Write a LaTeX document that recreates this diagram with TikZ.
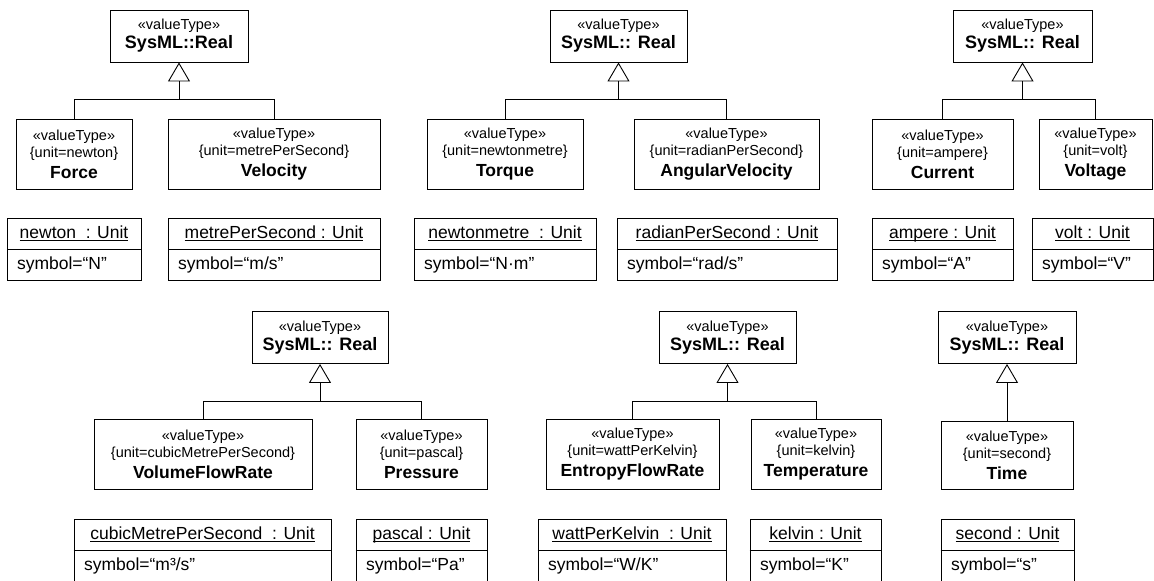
\documentclass[tikz,border=0pt]{standalone}
\usepackage{fontspec}
\setmainfont{Liberation Sans}
\usetikzlibrary{positioning}
\usetikzlibrary{arrows.meta}

% underlined instance name, rule at a fixed depth
\newsavebox{\unamebox}
\newcommand{\uname}[1]{\sbox{\unamebox}{#1}\rlap{\rule[-2.5pt]{\wd\unamebox}{0.8pt}}\usebox{\unamebox}}

\begin{document}
\begin{tikzpicture}[
    x=1pt, y=-1pt,
    line width=0.9pt,
    gen/.style={-{Triangle[open,length=19pt,width=22pt,line width=0.9pt]}},
    realbox/.style={draw, align=center, minimum height=52pt, inner sep=0pt,
      font=\fontsize{14.5}{19}\selectfont},
    typebox/.style={draw, align=center, minimum height=70pt, inner sep=0pt,
      font=\fontsize{14.5}{17}\selectfont},
    unithead/.style={draw, minimum height=31pt, inner sep=0pt,
      font=\fontsize{17.5}{20}\selectfont},
    unitbody/.style={draw, minimum height=31pt, inner xsep=10pt, inner ysep=0pt,
      align=left, font=\fontsize{17.5}{20}\selectfont},
  ]

  \useasboundingbox (0,0) rectangle (1154,581);

  % Mechanics: force and velocity
  \node[realbox, minimum width=138pt] (real1) at (179,36)
    {«valueType»\\{\fontsize{18}{19}\selectfont\bfseries SysML::Real}};
  \node[typebox, minimum width=116pt] (force) at (74,154)
    {«valueType»\\\{unit=newton\}\\[4pt]{\fontsize{17.5}{17}\selectfont\bfseries Force}};
  \node[typebox, minimum width=212pt] (velocity) at (274,154)
    {«valueType»\\\{unit=metrePerSecond\}\\[4pt]{\fontsize{17.5}{17}\selectfont\bfseries Velocity}};
  \node[unithead, minimum width=134pt] (newtonU) at (74,233.5) {\uname{newton\ \ : Unit}};
  \node[unitbody, text width=114pt, below=0pt of newtonU] (newtonS) {symbol=“N”};
  \node[unithead, minimum width=212pt] (metreU) at (274,233.5) {\uname{metrePerSecond\ : Unit}};
  \node[unitbody, text width=192pt, below=0pt of metreU] (metreS) {symbol=“m/s”};

  % Rotation: torque and angular velocity
  \node[realbox, minimum width=137pt] (real2) at (618.5,36)
    {«valueType»\\{\fontsize{18}{19}\selectfont\bfseries SysML:: Real}};
  \node[typebox, minimum width=156pt] (torque) at (505,154)
    {«valueType»\\\{unit=newtonmetre\}\\[4pt]{\fontsize{17.5}{17}\selectfont\bfseries Torque}};
  \node[typebox, minimum width=185pt] (angvel) at (726.5,154)
    {«valueType»\\\{unit=radianPerSecond\}\\[4pt]{\fontsize{17.5}{17}\selectfont\bfseries AngularVelocity}};
  \node[unithead, minimum width=182pt] (nmU) at (505,233.5) {\uname{newtonmetre\ \ : Unit}};
  \node[unitbody, text width=162pt, below=0pt of nmU] (nmS) {symbol=“N·m”};
  \node[unithead, minimum width=220pt] (radU) at (727,233.5) {\uname{radianPerSecond : Unit}};
  \node[unitbody, text width=200pt, below=0pt of radU] (radS) {symbol=“rad/s”};

  % Electrics: current and voltage
  \node[realbox, minimum width=139pt] (real3) at (1022.5,36)
    {«valueType»\\{\fontsize{18}{19}\selectfont\bfseries SysML:: Real}};
  \node[typebox, minimum width=141pt] (current) at (942.5,154)
    {«valueType»\\\{unit=ampere\}\\[4pt]{\fontsize{17.5}{17}\selectfont\bfseries Current}};
  \node[typebox, minimum width=113pt] (voltage) at (1095.5,154)
    {«valueType»\\\{unit=volt\}\\[4pt]{\fontsize{17.5}{17}\selectfont\bfseries Voltage}};
  \node[unithead, minimum width=141pt] (ampU) at (942.5,233.5) {\uname{ampere : Unit}};
  \node[unitbody, text width=121pt, below=0pt of ampU] (ampS) {symbol=“A”};
  \node[unithead, minimum width=121pt] (voltU) at (1092.5,233.5) {\uname{volt : Unit}};
  \node[unitbody, text width=101pt, below=0pt of voltU] (voltS) {symbol=“V”};

  % Fluids: volume flow rate and pressure
  \node[realbox, minimum width=136pt] (real4) at (320,337.5)
    {«valueType»\\{\fontsize{18}{19}\selectfont\bfseries SysML:: Real}};
  \node[typebox, minimum width=218pt] (volflow) at (203,454.5)
    {«valueType»\\\{unit=cubicMetrePerSecond\}\\[4pt]{\fontsize{17.5}{17}\selectfont\bfseries VolumeFlowRate}};
  \node[typebox, minimum width=131pt] (pressure) at (421.5,454.5)
    {«valueType»\\\{unit=pascal\}\\[4pt]{\fontsize{17.5}{17}\selectfont\bfseries Pressure}};
  \node[unithead, minimum width=257pt] (cubicU) at (202.5,534.5) {\uname{cubicMetrePerSecond\ \ : Unit}};
  \node[unitbody, text width=237pt, below=0pt of cubicU] (cubicS) {symbol=“m³/s”};
  \node[unithead, minimum width=131pt] (pascalU) at (421.5,534.5) {\uname{pascal : Unit}};
  \node[unitbody, text width=111pt, below=0pt of pascalU] (pascalS) {symbol=“Pa”};

  % Thermal: entropy flow rate and temperature
  \node[realbox, minimum width=137pt] (real5) at (727.5,337.5)
    {«valueType»\\{\fontsize{18}{19}\selectfont\bfseries SysML:: Real}};
  \node[typebox, minimum width=173pt] (entropy) at (632.5,454.5)
    {«valueType»\\\{unit=wattPerKelvin\}\\[4pt]{\fontsize{17.5}{17}\selectfont\bfseries EntropyFlowRate}};
  \node[typebox, minimum width=130pt] (temp) at (816,454.5)
    {«valueType»\\\{unit=kelvin\}\\[4pt]{\fontsize{17.5}{17}\selectfont\bfseries Temperature}};
  \node[unithead, minimum width=188pt] (wattU) at (632,534.5) {\uname{wattPerKelvin\ \ : Unit}};
  \node[unitbody, text width=168pt, below=0pt of wattU] (wattS) {symbol=“W/K”};
  \node[unithead, minimum width=131pt] (kelvinU) at (815.5,534.5) {\uname{kelvin : Unit}};
  \node[unitbody, text width=111pt, below=0pt of kelvinU] (kelvinS) {symbol=“K”};

  % Time
  \node[realbox, minimum width=138pt] (real6) at (1007,337.5)
    {«valueType»\\{\fontsize{18}{19}\selectfont\bfseries SysML:: Real}};
  \node[typebox, minimum width=132pt, minimum height=68pt] (time) at (1007,455.5)
    {«valueType»\\\{unit=second\}\\[4pt]{\fontsize{17.5}{17}\selectfont\bfseries Time}};
  \node[unithead, minimum width=133pt] (secondU) at (1007.5,534.5) {\uname{second : Unit}};
  \node[unitbody, text width=113pt, below=0pt of secondU] (secondS) {symbol=“s”};

  % Heavier rules under the lower unit names
  \foreach \u in {cubicU,pascalU,wattU,kelvinU,secondU}
    \draw[line width=1.8pt] (\u.south west) -- (\u.south east);

  % Generalisations
  \coordinate (bar1) at (179,99);
  \coordinate (bar2) at (618.5,99);
  \coordinate (bar3) at (1022.5,99);
  \coordinate (bar4) at (320,401);
  \coordinate (bar5) at (727.5,401);

  \draw[gen] (force.north) |- (bar1) -- (real1.south);
  \draw (velocity.north) |- (bar1);
  \draw[gen] (torque.north) |- (bar2) -- (real2.south);
  \draw (angvel.north) |- (bar2);
  \draw[gen] (current.north) |- (bar3) -- (real3.south);
  \draw (voltage.north) |- (bar3);
  \draw[gen] (volflow.north) |- (bar4) -- (real4.south);
  \draw (pressure.north) |- (bar4);
  \draw[gen] (entropy.north) |- (bar5) -- (real5.south);
  \draw (temp.north) |- (bar5);
  \draw[gen] (time.north) -- (real6.south);

\end{tikzpicture}
\end{document}
